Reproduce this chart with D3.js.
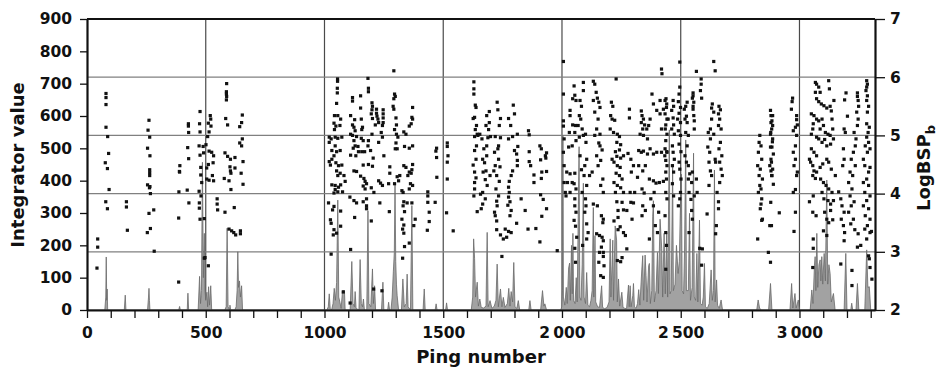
<!DOCTYPE html>
<html>
<head>
<meta charset="utf-8">
<script src="https://cdn.jsdelivr.net/npm/d3@7"></script>
<style>
  body { margin: 0; background: #fff; }
  svg text { font-family: "DejaVu Sans", sans-serif; font-weight: bold; fill: #111; }
</style>
</head>
<body>
<script>
// axis ticks and labels
var xMajorTicks = [0, 500, 1000, 1500, 2000, 2500, 3000];
var xMajorLabels = ["0", "500", "1000", "1500", "2\u2009000", "2\u2009500", "3\u2009000"];
var xMinorTicks = [0,100,200,300,400,500,600,700,800,900,1000,1100,1200,1300,1400,1500,1600,1700,1800,1900,2000,2100,2200,2300,2400,2500,2600,2700,2800,2900,3000,3100,3200,3300];
var yLeftTicks = [0, 100, 200, 300, 400, 500, 600, 700, 800, 900];
var yRightTicks = [2, 3, 4, 5, 6, 7];
var xGridValues = [500, 1000, 1500, 2000, 2500, 3000];
var yRightGridValues = [3, 4, 5, 6];

// integrator value (left axis), [ping, value]
var integrator = [
  [0,0],[75,0],[79,40],[81,164],[83,30],[85,65],[87,0],
  [157,0],[161,46],[164,0],
  [255,0],[259,40],[261,67],[263,30],[265,0],
  [386,0],[390,11],[393,0],[422,0],[425,52],[428,0],
  [468,0],[474,104],[478,20],[482,60],[486,457],[490,100],[494,237],[497,60],[500,30],[505,55],[508,10],[512,72],[516,15],[521,75],[525,0],
  [580,0],[586,10],[590,253],[594,10],[600,0],[602,15],[605,0],
  [622,0],[628,10],[632,60],[635,180],[638,70],[642,90],[646,40],[651,75],[655,0],
  [1010,0],[1016,10],[1020,50],[1024,5],[1030,0],[1036,20],[1041,67],[1046,30],[1051,85],[1056,340],[1060,40],[1065,24],[1070,5],[1076,60],[1084,60],[1087,0],
  [1108,0],[1115,150],[1120,20],[1126,10],[1129,57],[1133,5],[1145,0],[1150,156],[1155,20],[1160,10],[1164,34],[1168,0],
  [1178,0],[1183,307],[1187,20],[1195,10],[1202,127],[1206,20],[1211,75],[1215,0],
  [1240,0],[1246,86],[1250,0],[1266,0],[1270,24],[1274,0],
  [1280,0],[1285,40],[1290,120],[1294,178],[1297,393],[1300,150],[1303,80],[1306,44],[1312,0],
  [1324,0],[1330,96],[1336,10],[1344,20],[1348,111],[1352,10],[1362,0],[1368,323],[1372,0],
  [1415,0],[1420,65],[1424,0],[1466,0],[1470,19],[1474,0],[1510,0],[1514,22],[1518,0],
  [1618,0],[1624,40],[1628,220],[1632,160],[1636,40],[1643,86],[1648,12],[1654,34],[1660,8],[1670,6],[1680,12],[1685,240],[1689,10],[1697,29],[1705,5],[1715,12],[1722,30],[1727,142],[1732,10],[1741,65],[1747,10],[1753,39],[1760,8],[1770,20],[1776,67],[1781,12],[1786,57],[1792,25],[1797,147],[1802,10],[1810,5],[1816,29],[1822,0],
  [1860,0],[1865,29],[1870,0],[1910,0],[1918,60],[1924,12],[1928,19],[1935,0],
  [1995,0],[1999,10],[2002,60],[2004,540],[2006,40],[2012,15],[2018,70],[2022,20],[2028,130],[2032,145],[2035,30],[2040,200],[2043,50],[2046,237],[2049,30],[2055,20],[2060,100],[2064,25],[2072,505],[2075,40],[2080,30],[2085,140],[2090,392],[2093,40],[2099,20],[2104,116],[2109,15],[2116,10],[2122,30],[2127,60],[2132,317],[2134,40],[2139,230],[2142,25],[2150,10],[2158,8],[2167,75],[2171,8],[2180,4],[2190,8],[2198,25],
  [2203,220],[2206,40],[2214,216],[2217,30],[2224,260],[2230,216],[2233,25],[2238,96],[2243,12],[2252,55],[2257,8],[2265,5],[2272,4],[2280,77],[2283,10],[2287,75],[2291,10],[2298,44],[2301,82],[2305,10],[2312,5],[2318,20],[2323,63],[2328,15],[2336,124],[2340,168],[2344,30],[2350,170],[2354,106],[2358,25],[2365,137],[2368,144],[2372,20],[2378,60],[2382,290],[2385,338],[2389,25],[2396,60],
  [2402,178],[2406,51],[2413,281],[2420,190],[2424,40],[2430,237],[2435,50],[2441,240],[2445,40],[2452,557],[2455,50],[2460,60],[2466,450],[2469,60],[2476,80],[2482,200],[2489,113],[2494,150],[2498,300],[2503,420],[2506,60],[2512,50],[2516,180],[2521,526],[2524,60],[2532,60],[2537,299],[2541,30],[2548,70],[2554,485],[2557,40],[2563,30],[2568,175],[2572,25],[2579,278],[2583,20],[2590,15],[2595,40],
  [2600,144],[2604,10],[2612,5],[2620,20],[2628,124],[2633,30],[2638,60],[2642,433],[2645,25],[2651,93],[2655,15],[2662,5],[2670,31],[2676,0],
  [2820,0],[2826,31],[2832,6],[2838,0],[2870,0],[2878,82],[2884,0],
  [2960,0],[2967,82],[2972,6],[2981,51],[2986,6],[2995,31],[3000,0],
  [3045,0],[3052,62],[3057,20],[3063,137],[3066,165],[3069,60],[3073,237],[3077,70],[3082,140],[3087,155],[3090,90],[3094,165],[3098,80],[3104,175],[3109,90],[3115,402],[3119,80],[3124,140],[3129,113],[3134,25],[3143,51],[3150,0],
  [3188,0],[3195,175],[3200,0],[3216,0],[3220,21],[3224,0],[3238,0],[3244,82],[3250,0],
  [3275,0],[3283,186],[3288,70],[3294,72],[3300,0],[3318,0]
];

// LogBSPb (right axis), [ping, value]
var logBSP = [
  [42,2.72],[45,3.22],[45,3.08],[80,5.72],[80,5.65],[80,5.53],[80,5.14],[87,4.98],[91,4.69],[77,4.53],[86,4.43],[93,4.07],[79,3.86],[86,3.74],
  [166,3.86],[166,3.77],[170,3.37],[261,5.26],[257,5.09],[264,4.97],[255,4.78],[265,4.65],[264,4.41],[264,4.36],[264,4.31],[255,4.15],[265,4.12],[263,4.10],[267,4.00],[261,3.66],[281,3.72],[267,3.40],[254,3.33],[283,3.01],
  [386,2.48],[391,4.48],[389,4.38],[390,4.37],[387,4.03],[386,3.58],[427,5.20],[427,5.16],[428,5.05],[424,4.79],[428,4.60],[422,4.06],[429,3.84],
  [476,5.41],[474,5.20],[476,5.06],[472,4.82],[476,4.66],[479,4.45],[479,4.32],[472,4.04],[480,3.96],[473,3.84],[473,3.75],[476,3.56],[483,4.19],[494,2.89],[489,4.81],[491,4.70],[494,3.57],[497,2.90],
  [519,5.34],[521,5.28],[511,5.21],[522,5.16],[514,5.06],[508,4.98],[501,4.84],[514,4.73],[525,4.71],[533,4.65],[511,4.50],[531,4.53],[504,4.44],[514,4.23],[528,4.31],[533,4.22],[504,4.25],[548,3.91],[548,3.82],[550,3.72],[511,2.76],
  [588,5.89],[587,5.75],[587,5.71],[588,5.67],[587,5.61],[584,5.29],[592,5.18],[654,5.35],[651,5.22],[643,5.15],[654,4.94],[643,4.87],[651,4.82],[581,4.70],[592,4.64],[604,4.59],[623,4.62],[602,4.46],[623,4.44],[657,4.55],[604,4.39],[606,4.35],[649,4.35],[578,4.26],[598,4.22],[657,4.16],[606,4.07],[581,3.68],[620,3.76],[598,3.39],[609,3.36],[618,3.33],[626,3.29],[646,3.36],[646,3.31],
  [1055,5.97],[1055,5.93],[1054,5.81],[1054,5.73],[1051,5.55],[1042,5.34],[1056,5.34],[1068,5.28],[1040,5.21],[1048,5.16],[1042,5.10],[1065,5.17],[1020,4.97],[1028,4.94],[1020,4.88],[1045,4.97],[1056,4.95],[1073,4.97],[1045,4.82],[1031,4.74],[1051,4.72],[1066,4.74],[1040,4.65],[1031,4.59],[1020,4.55],[1025,4.49],[1048,4.53],[1059,4.48],[1073,4.49],[1051,4.39],[1066,4.35],[1056,4.31],[1082,4.31],[1087,4.21],[1031,4.15],[1045,4.14],[1059,4.11],[1068,4.15],[1045,4.07],[1056,4.03],[1040,4.01],[1076,4.03],[1017,3.84],[1040,3.78],[1034,3.72],[1068,3.70],[1025,3.55],[1028,3.49],[1040,3.38],[1051,3.32],[1037,3.29],[1068,3.44],[1028,2.96],[1110,3.04],
  [1118,5.65],[1118,5.59],[1152,5.68],[1183,5.98],[1185,5.81],[1185,5.75],[1200,5.56],[1202,5.50],[1200,5.44],[1197,5.37],[1202,5.29],[1110,5.34],[1127,5.27],[1118,5.18],[1124,5.14],[1129,5.08],[1110,5.02],[1152,5.47],[1155,5.28],[1160,5.14],[1157,5.10],[1118,5.00],[1135,4.98],[1124,4.91],[1129,4.82],[1121,4.78],[1141,4.81],[1155,4.95],[1163,4.91],[1143,4.72],[1157,4.72],[1169,4.72],[1185,4.91],[1183,4.82],[1194,4.74],[1200,5.02],[1110,4.66],[1132,4.65],[1124,4.39],[1135,4.38],[1163,4.49],[1185,4.50],[1205,4.61],[1202,4.47],[1152,4.30],[1166,4.26],[1171,4.21],[1163,4.13],[1171,4.08],[1177,4.17],[1197,4.10],[1208,4.02],[1107,3.94],[1124,3.88],[1135,3.84],[1163,3.86],[1177,3.91],[1177,3.79],[1177,3.74],[1127,3.59],[1197,3.53],[1233,3.84],[1273,3.69],
  [1219,5.45],[1219,5.38],[1221,5.33],[1225,5.28],[1214,5.18],[1228,5.22],[1239,5.05],[1244,4.97],[1228,4.88],[1250,4.65],[1228,4.22],[1236,4.18],[1244,4.14],[1247,5.44],[1247,5.37],[1247,5.30],[1247,5.22],[1244,5.17],
  [1292,6.11],[1295,5.71],[1298,5.67],[1292,5.63],[1289,5.50],[1292,5.45],[1301,5.30],[1303,5.18],[1295,5.10],[1303,5.02],[1309,4.97],[1301,4.87],[1298,4.77],[1306,4.77],[1275,4.46],[1275,4.35],[1270,4.17],[1295,4.17],[1306,4.29],[1317,4.31],[1312,4.22],
  [1334,4.48],[1343,4.45],[1357,4.37],[1365,4.35],[1371,4.50],[1368,4.41],[1351,4.31],[1362,4.17],[1371,4.14],[1357,4.08],[1331,4.02],[1326,4.05],[1334,5.06],[1343,5.02],[1357,5.16],[1365,5.20],[1368,5.31],[1371,5.28],[1371,5.48],[1357,4.78],[1337,4.81],[1371,4.82],
  [1334,3.86],[1331,3.79],[1348,3.84],[1368,3.84],[1337,3.69],[1326,3.56],[1334,3.46],[1329,3.39],[1334,3.32],[1337,3.09],[1357,3.15],[1329,2.89],[1382,3.56],[1376,3.45],
  [1435,4.03],[1435,3.96],[1435,3.85],[1441,3.68],[1441,3.52],[1433,3.37],[1472,4.78],[1469,4.73],[1472,4.62],[1473,4.28],[1466,3.85],[1207,2.36],[1242,2.33],[1079,2.31],[1108,2.12],
  [1517,4.87],[1517,4.81],[1520,4.65],[1517,4.54],[1517,4.25],[1514,3.67],[1542,3.36],
  [1629,5.92],[1629,5.80],[1629,5.71],[1635,5.52],[1638,5.48],[1632,5.31],[1626,5.29],[1640,5.17],[1635,5.10],[1643,5.02],[1632,4.98],[1646,5.00],[1654,5.02],[1663,4.94],[1640,4.82],[1632,4.74],[1638,4.59],[1626,4.49],[1632,4.37],[1638,4.27],[1632,4.19],[1632,4.08],[1629,3.96],
  [1694,5.41],[1683,5.34],[1694,5.22],[1680,5.17],[1691,5.10],[1699,4.98],[1688,4.96],[1683,4.82],[1671,4.77],[1683,4.65],[1666,4.59],[1674,4.53],[1680,4.39],[1668,4.37],[1697,4.31],[1677,4.24],[1685,4.14],[1666,4.02],[1657,3.99],[1677,3.91],[1666,3.82],[1660,3.74],[1643,3.69],
  [1727,5.57],[1730,5.44],[1741,5.29],[1736,5.17],[1719,4.98],[1741,4.96],[1733,4.82],[1730,4.77],[1716,4.71],[1733,4.59],[1719,4.48],[1739,4.46],[1713,4.39],[1725,4.31],[1736,4.21],[1722,4.08],[1733,3.96],[1725,3.87],[1727,3.79],[1716,3.68],[1719,3.62],[1725,3.53],[1725,3.38],[1741,3.29],[1753,3.22],[1747,2.92],
  [1795,5.52],[1800,5.37],[1775,5.29],[1784,5.17],[1792,4.98],[1775,4.94],[1812,5.02],[1814,4.81],[1800,4.74],[1809,4.68],[1812,4.57],[1812,4.48],[1792,4.39],[1786,4.31],[1778,4.21],[1775,4.11],[1778,4.02],[1775,3.94],[1781,3.86],[1772,3.80],[1786,3.71],[1781,3.62],[1809,3.49],[1761,3.39],[1775,3.35],[1786,3.33],[1767,3.25],[1828,3.91],[1845,3.71],
  [1859,5.08],[1862,5.01],[1862,4.72],[1862,4.55],[1868,4.48],[1882,4.32],[1882,4.19],[1857,3.39],[1890,3.40],[1907,3.17],
  [1907,4.82],[1913,4.77],[1910,4.58],[1915,4.37],[1913,4.26],[1930,4.65],[1935,4.70],[1932,4.61],[1935,4.38],[1910,3.98],[1921,3.90],[1935,3.74],[1915,3.61],[1980,3.02],
  [2006,6.27],[2006,5.71],[2006,5.25],[2006,5.16],[2009,4.94],[2006,4.71],[2009,4.48],[2009,4.19],[2014,4.02],[2017,3.96],
  [2051,5.85],[2054,5.69],[2045,5.63],[2059,5.60],[2034,5.43],[2034,5.34],[2045,5.18],[2057,5.17],[2031,5.05],[2054,5.05],[2059,4.91],[2028,4.80],[2043,4.82],[2020,4.37],[2034,4.34],[2054,4.35],[2023,4.19],[2043,4.19],[2051,4.17],[2034,4.02],[2059,4.08],[2054,3.91],[2054,3.79],[2059,3.68],[2051,3.54],[2057,3.44],[2062,3.25],[2054,3.06],[2057,2.82],
  [2090,5.91],[2090,5.77],[2076,5.60],[2082,5.50],[2073,5.34],[2079,5.28],[2068,5.17],[2085,5.11],[2073,4.97],[2090,5.00],[2099,5.02],[2101,4.88],[2076,4.65],[2104,4.59],[2096,4.48],[2082,4.41],[2093,4.31],[2104,4.14],[2085,4.02],[2099,3.91],[2101,3.79],[2096,3.68],[2104,3.48],[2110,3.33],[2104,3.22],[2087,3.11],
  [2132,5.93],[2138,5.88],[2144,5.74],[2149,5.64],[2132,5.60],[2155,5.57],[2160,5.48],[2138,5.40],[2152,5.28],[2146,5.11],[2160,5.02],[2138,5.00],[2155,4.87],[2160,4.82],[2169,4.75],[2146,4.65],[2163,4.57],[2152,4.48],[2127,4.37],[2116,4.31],[2172,4.25],[2163,4.14],[2174,4.02],[2132,3.82],[2149,3.79],[2166,3.62],[2174,3.56],[2172,3.50],[2146,3.31],[2158,3.28],[2169,3.25],[2174,3.19],[2166,3.08],[2174,2.99],[2174,2.92],[2177,2.76],[2174,2.56],[2163,2.59],[2155,2.82],[2158,2.99],
  [2228,5.97],[2208,5.57],[2214,5.50],[2205,5.34],[2211,5.28],[2222,5.26],[2203,5.11],[2217,5.05],[2233,5.02],[2242,4.98],[2231,4.88],[2247,4.84],[2242,4.75],[2225,4.72],[2231,4.64],[2247,4.61],[2259,4.65],[2211,4.59],[2219,4.54],[2233,4.48],[2245,4.45],[2228,4.35],[2242,4.31],[2253,4.25],[2219,4.19],[2233,4.14],[2247,4.10],[2259,4.02],[2225,4.02],[2231,3.86],[2253,3.85],[2236,3.71],[2259,3.72],[2273,3.71],[2219,3.53],[2236,3.59],[2245,3.43],[2236,3.38],[2259,3.33],[2267,3.28],[2273,3.05],[2253,2.90],[2233,2.85],[2247,2.83],
  [2284,5.45],[2284,5.30],[2278,4.69],[2290,4.59],[2301,4.48],[2323,4.48],[2292,4.37],[2318,4.28],[2287,4.02],[2306,4.02],[2290,3.85],[2301,3.84],[2295,3.56],
  [2334,5.42],[2337,5.34],[2343,5.28],[2334,5.22],[2348,5.18],[2340,5.11],[2357,5.11],[2365,5.17],[2329,5.02],[2343,5.00],[2360,4.94],[2371,5.28],[2379,5.71],[2385,5.54],[2399,5.43],[2413,5.37],[2427,5.45],[2419,5.11],[2435,5.11],[2447,5.28],[2413,5.60],[2438,5.63],[2441,5.54],
  [2323,4.74],[2334,4.71],[2343,4.73],[2360,4.68],[2371,4.77],[2385,4.68],[2399,4.71],[2419,4.71],[2433,4.65],[2441,4.72],[2340,4.39],[2351,4.48],[2368,4.25],[2385,4.22],[2396,4.18],[2410,4.19],[2427,4.21],[2337,4.08],[2346,4.01],[2340,3.79],[2351,3.71],[2337,3.62],[2374,3.91],[2385,3.79],[2407,3.68],[2368,3.22],[2393,3.45],[2402,3.33],[2388,4.02],[2419,6.14],[2421,6.06],
  [2496,6.26],[2566,6.10],[2639,6.27],[2645,6.11],[2586,5.97],[2586,5.88],[2583,5.77],[2588,5.64],
  [2552,5.73],[2552,5.68],[2549,5.64],[2555,5.57],[2552,5.50],[2552,5.45],[2555,5.34],[2557,5.25],[2557,5.11],
  [2496,5.83],[2493,5.71],[2490,5.58],[2499,5.48],[2493,5.38],[2487,5.28],[2499,5.22],[2490,5.08],[2499,5.00],[2493,4.85],[2501,4.72],[2493,4.54],[2496,4.42],[2501,4.25],[2499,4.02],[2496,3.91],[2490,3.79],
  [2468,5.60],[2470,5.50],[2462,5.43],[2468,5.30],[2470,5.18],[2462,5.11],[2473,5.02],[2465,4.82],[2468,4.71],[2473,4.59],[2465,4.48],[2470,4.37],[2465,4.17],[2470,3.96],
  [2434,5.60],[2440,5.48],[2434,5.37],[2442,5.28],[2437,5.18],[2442,5.02],[2437,4.91],[2434,4.77],[2442,4.71],[2437,4.57],[2442,4.48],[2437,4.37],[2440,4.25],[2437,4.02],[2442,3.91],[2434,3.62],[2437,3.33],[2440,3.11],[2437,2.70],
  [2515,5.45],[2521,5.50],[2527,5.57],[2524,5.33],[2518,5.28],[2527,5.22],[2521,5.05],[2532,5.00],[2527,4.82],[2518,4.65],[2524,4.54],[2532,4.48],[2538,4.34],[2532,4.25],[2546,4.19],[2549,4.37],[2557,3.96],[2535,4.02],[2543,3.90],[2546,3.71],[2549,3.56],[2566,4.25],[2569,4.02],[2580,3.06],[2591,3.05],[2588,2.77],[2535,3.33],
  [2633,5.54],[2630,5.47],[2639,5.40],[2630,5.28],[2625,5.11],[2616,5.05],[2639,5.02],[2625,4.94],[2614,4.80],[2622,4.71],[2619,4.54],[2625,4.39],[2645,4.59],[2647,4.54],[2630,4.31],[2619,4.14],
  [2661,5.50],[2667,5.44],[2659,5.37],[2664,5.28],[2659,5.17],[2670,5.11],[2667,4.88],[2661,4.77],[2673,4.65],[2664,4.54],[2670,4.42],[2675,4.31],[2664,4.19],[2653,4.02],[2659,3.86],[2659,3.74],[2650,3.45],[2647,3.31],[2611,3.65],
  [2833,5.00],[2830,4.88],[2838,4.82],[2827,4.71],[2841,4.59],[2824,4.48],[2835,4.42],[2830,4.31],[2844,4.25],[2833,4.14],[2838,4.08],[2827,4.02],[2841,3.91],[2838,3.82],[2835,3.74],[2844,3.56],[2841,3.54],[2824,3.22],
  [2878,5.43],[2880,5.34],[2880,5.22],[2883,5.11],[2878,5.02],[2886,4.89],[2878,4.80],[2880,4.59],[2875,4.48],[2880,4.39],[2883,4.31],[2875,3.45],[2869,2.99],[2878,2.82],
  [2887,5.34],[2884,5.25],[2887,5.17],[2879,5.05],[2887,4.94],[2884,4.80],[2890,4.68],[2882,4.54],[2887,4.42],[2884,4.31],[2890,4.16],[2879,3.85],[2882,3.45],[2915,3.67],
  [2971,5.64],[2969,5.58],[2966,5.45],[2988,5.34],[2988,5.27],[2991,5.18],[2983,5.14],[2974,5.08],[2988,5.00],[2983,4.82],[2974,4.71],[2983,4.59],[2977,4.48],[2991,4.37],[2988,4.31],[2983,4.07],[2974,4.02],[2983,3.68],[2977,3.35],
  [3067,5.91],[3072,5.88],[3081,5.83],[3067,5.74],[3087,5.74],[3123,5.94],[3126,5.80],[3072,5.63],[3081,5.58],[3092,5.54],[3103,5.51],[3115,5.47],[3129,5.50],[3134,5.42],[3145,5.60],[3050,5.37],[3061,5.34],[3072,5.28],[3058,5.20],[3056,5.11],[3050,5.02],[3081,5.25],[3095,5.28],[3101,5.17],[3087,5.11],[3109,5.05],[3120,5.02],[3129,5.00],[3140,5.11],[3137,5.28],
  [3072,4.97],[3081,4.94],[3095,4.88],[3106,4.93],[3115,4.82],[3131,4.85],[3143,4.94],[3050,4.77],[3061,4.71],[3072,4.65],[3042,4.59],[3047,4.54],[3056,4.48],[3061,4.39],[3072,4.37],[3087,4.45],[3098,4.51],[3115,4.59],[3123,4.54],[3134,4.42],[3056,4.31],[3067,4.26],[3089,4.25],[3101,4.19],[3112,4.14],[3123,4.08],[3137,4.02],[3151,4.31],[3095,4.02],[3103,3.91],[3120,3.88],[3131,3.82],[3143,3.88],[3056,3.68],[3070,3.62],[3106,3.68],[3115,3.56],[3123,3.50],[3131,3.71],[3140,3.55],[3101,3.36],[3115,3.28],[3042,3.86],[3058,3.96],[3058,3.22],[3058,3.06],[3056,2.73],
  [3196,5.73],[3190,5.61],[3202,5.33],[3188,5.11],[3193,5.05],[3185,4.77],[3188,4.59],[3182,4.48],[3165,4.03],[3174,3.91],[3179,3.79],[3188,3.68],[3176,3.56],[3185,3.45],[3190,3.33],[3188,3.19],[3174,2.79],[3221,2.68],[3221,2.42],
  [3244,5.73],[3244,5.67],[3247,5.60],[3249,5.50],[3241,5.40],[3247,5.28],[3244,5.17],[3230,5.05],[3238,4.94],[3235,4.82],[3227,4.71],[3218,4.59],[3235,4.48],[3213,4.37],[3224,4.31],[3207,4.19],[3221,4.08],[3213,3.96],[3230,3.86],[3218,3.79],[3207,3.68],[3227,3.56],[3216,3.48],[3233,3.38],[3247,3.31],[3258,3.11],[3244,3.08],
  [3283,5.94],[3286,5.88],[3283,5.83],[3280,5.77],[3286,5.68],[3283,5.60],[3291,5.50],[3286,5.40],[3283,5.20],[3294,5.14],[3289,5.05],[3283,4.97],[3291,4.88],[3277,4.82],[3297,4.77],[3286,4.71],[3269,4.59],[3275,4.48],[3297,4.45],[3291,4.37],[3283,4.25],[3269,4.19],[3291,4.14],[3275,4.02],[3297,3.96],[3283,3.88],[3269,3.79],[3291,3.74],[3277,3.62],[3297,3.56],[3286,3.45],[3275,3.39],[3297,3.33],[3303,3.35],[3283,3.22],[3291,2.93],[3294,2.88],[3297,2.73],[3305,2.53]
];

var margin = {top: 19, right: 64, bottom: 65, left: 87};
var width = 939 - margin.left - margin.right;
var height = 375 - margin.top - margin.bottom;

var svg = d3.select("body").append("svg")
  .attr("width", 939)
  .attr("height", 375);
var g = svg.append("g")
  .attr("transform", "translate(" + margin.left + "," + margin.top + ")");

var x = d3.scaleLinear().domain([0, 3318]).range([0, width]);
var yLeft = d3.scaleLinear().domain([0, 900]).range([height, 0]);
var yRight = d3.scaleLinear().domain([2, 7]).range([height, 0]);

// grid
g.selectAll("line.vgrid").data(xGridValues).enter().append("line")
  .attr("class", "vgrid")
  .attr("x1", function (d) { return x(d); })
  .attr("x2", function (d) { return x(d); })
  .attr("y1", 0).attr("y2", height)
  .attr("stroke", "#4a4a4a").attr("stroke-width", 1.2);
g.selectAll("line.hgrid").data(yRightGridValues).enter().append("line")
  .attr("class", "hgrid")
  .attr("x1", 0).attr("x2", width)
  .attr("y1", function (d) { return yRight(d); })
  .attr("y2", function (d) { return yRight(d); })
  .attr("stroke", "#808080").attr("stroke-width", 1.2);

// integrator area
var area = d3.area()
  .x(function (d) { return x(d[0]); })
  .y0(yLeft(0))
  .y1(function (d) { return yLeft(d[1]); });
g.append("path")
  .datum(integrator)
  .attr("d", area)
  .attr("fill", "#a2a2a2")
  .attr("stroke", "#6a6a6a")
  .attr("stroke-width", 0.8);

// LogBSP points
g.selectAll("rect.pt").data(logBSP).enter().append("rect")
  .attr("class", "pt")
  .attr("x", function (d) { return x(d[0]) - 1.6; })
  .attr("y", function (d) { return yRight(d[1]) - 1.6; })
  .attr("width", 3.2).attr("height", 3.2)
  .attr("fill", "#111");

// axes
function styleAxis(sel) {
  sel.selectAll("text").attr("font-family", "DejaVu Sans, sans-serif")
    .attr("font-weight", "bold").attr("font-size", "15.5px").attr("fill", "#111");
  sel.selectAll(".tick line").attr("stroke", "#111").attr("stroke-width", 1.3);
  sel.select(".domain").attr("stroke", "#111").attr("stroke-width", 2.2);
}

g.append("g")
  .call(d3.axisLeft(yLeft).tickValues(yLeftTicks).tickSize(7).tickSizeOuter(0).tickPadding(8))
  .call(styleAxis);

g.append("g")
  .attr("transform", "translate(0," + height + ")")
  .call(d3.axisBottom(x).tickValues(xMinorTicks).tickSize(8).tickSizeOuter(0).tickPadding(9)
    .tickFormat(function (d) {
      var i = xMajorTicks.indexOf(d);
      return i >= 0 ? xMajorLabels[i] : "";
    }))
  .call(styleAxis);

g.append("g")
  .attr("transform", "translate(" + width + ",0)")
  .call(d3.axisRight(yRight).tickValues(yRightTicks).tickSize(10).tickSizeOuter(0).tickPadding(5)
    .tickFormat(d3.format("d")))
  .call(styleAxis);

// top frame line
g.append("line")
  .attr("x1", 0).attr("x2", width).attr("y1", 0).attr("y2", 0)
  .attr("stroke", "#111").attr("stroke-width", 2.2);

// titles
svg.append("text")
  .attr("transform", "translate(23.5,165) rotate(-90)")
  .attr("text-anchor", "middle")
  .attr("font-size", "18px")
  .text("Integrator value");

svg.append("text")
  .attr("x", margin.left + width / 2)
  .attr("y", 363)
  .attr("text-anchor", "middle")
  .attr("font-size", "18px")
  .text("Ping number");

var rt = svg.append("text")
  .attr("transform", "translate(930,168) rotate(-90)")
  .attr("text-anchor", "middle")
  .attr("font-size", "18px");
rt.append("tspan").text("LogBSP");
rt.append("tspan").attr("font-size", "13px").attr("dy", "5").text("b");
</script>
</body>
</html>
